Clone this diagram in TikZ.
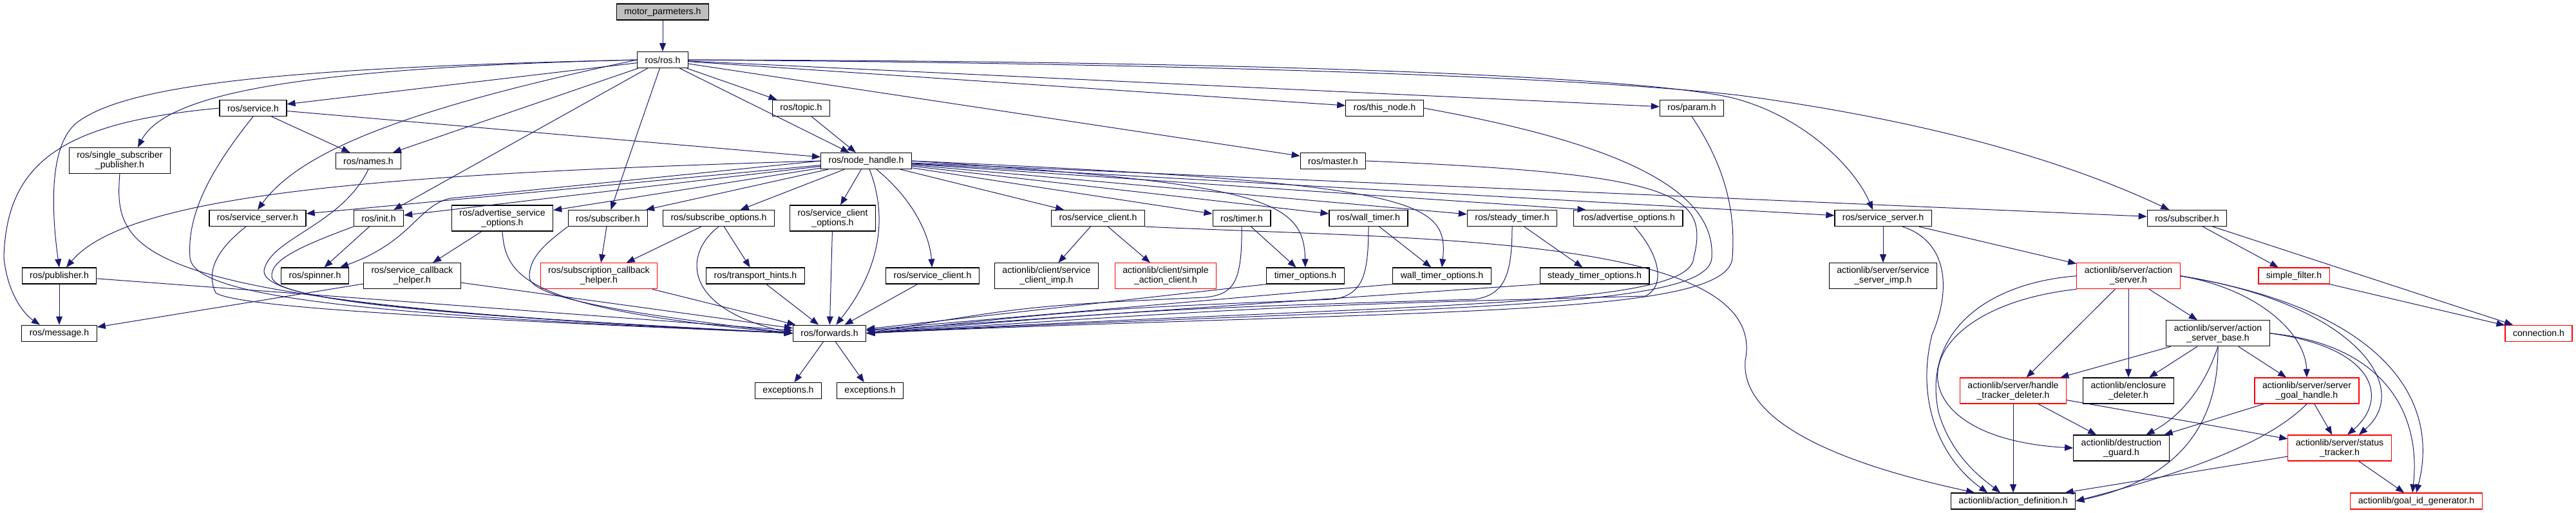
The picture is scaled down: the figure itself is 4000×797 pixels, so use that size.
\documentclass[tikz,border=0pt]{standalone}
\usepackage{fontspec}
\setmainfont{Liberation Sans}
\usetikzlibrary{arrows.meta}
\definecolor{edgeblue}{HTML}{191970}
\tikzset{
  hdr/.style={draw=black, fill=white, line width=0.6pt, inner xsep=6pt, inner ysep=0pt,
    minimum height=12.5pt, align=center, font=\fontsize{7.05}{7.5}\selectfont},
  hdrtwo/.style={hdr, minimum height=20pt},
  trunc/.style={draw=red},
  inc/.style={draw=edgeblue, line width=0.5pt, -{Triangle[length=6.5pt,width=5pt]}}
}
\begin{document}
\begin{tikzpicture}[x=0.5pt, y=-0.5pt]
\useasboundingbox (0,0) rectangle (4000,797);
% headers
\node[hdr, fill=gray!50] (mp) at (1029,18.5) {motor\_parmeters.h};
\node[hdr] (ros) at (1029,93) {ros/ros.h};
\node[hdr] (srv) at (393,168) {ros/service.h};
\node[hdr] (topic) at (1244,168) {ros/topic.h};
\node[hdr] (thisnode) at (2150,168) {ros/this\_node.h};
\node[hdr] (param) at (2627,168) {ros/param.h};
\node[hdrtwo] (ssp) at (186,249.5) {ros/single\_subscriber\\\_publisher.h};
\node[hdr] (names) at (572,250) {ros/names.h};
\node[hdr] (nh) at (1345,250) {ros/node\_handle.h};
\node[hdr] (master) at (2070,250) {ros/master.h};
\node[hdr] (srvsrvL) at (400,339) {ros/service\_server.h};
\node[hdr] (init) at (588,339) {ros/init.h};
\node[hdrtwo] (adso) at (780,339) {ros/advertise\_service\\\_options.h};
\node[hdr] (subL) at (944,339) {ros/subscriber.h};
\node[hdr] (subopt) at (1116,339) {ros/subscribe\_options.h};
\node[hdrtwo] (sco) at (1293,339) {ros/service\_client\\\_options.h};
\node[hdr] (scU) at (1705,339) {ros/service\_client.h};
\node[hdr] (timer) at (1928,339) {ros/timer.h};
\node[hdr] (wtimer) at (2125,339) {ros/wall\_timer.h};
\node[hdr] (stimer) at (2348,339) {ros/steady\_timer.h};
\node[hdr] (advo) at (2528,339) {ros/advertise\_options.h};
\node[hdr] (srvsrvR) at (2924,339) {ros/service\_server.h};
\node[hdr] (subR) at (3396,339) {ros/subscriber.h};
\node[hdr] (pub) at (92,428.5) {ros/publisher.h};
\node[hdr] (spin) at (489,428.5) {ros/spinner.h};
\node[hdrtwo] (sch) at (640,428.7) {ros/service\_callback\\\_helper.h};
\node[hdrtwo, trunc] (subcb) at (930,428.7) {ros/subscription\_callback\\\_helper.h};
\node[hdr] (hints) at (1173,428.5) {ros/transport\_hints.h};
\node[hdr] (scL) at (1448,428.5) {ros/service\_client.h};
\node[hdrtwo] (scimp) at (1625,428.7) {actionlib/client/service\\\_client\_imp.h};
\node[hdrtwo, trunc] (sac) at (1810,428.7) {actionlib/client/simple\\\_action\_client.h};
\node[hdr] (topt) at (2027,428.5) {timer\_options.h};
\node[hdr] (wtopt) at (2239,428.5) {wall\_timer\_options.h};
\node[hdr] (stopt) at (2476,428.5) {steady\_timer\_options.h};
\node[hdrtwo] (ssimp) at (2924,428.7) {actionlib/server/service\\\_server\_imp.h};
\node[hdrtwo, trunc] (as) at (3305,428.7) {actionlib/server/action\\\_server.h};
\node[hdr, trunc] (sf) at (3562,428.5) {simple\_filter.h};
\node[hdr] (msg) at (92,517.7) {ros/message.h};
\node[hdr] (fwd) at (1288,517.7) {ros/forwards.h};
\node[hdrtwo] (asb) at (3444,517.8) {actionlib/server/action\\\_server\_base.h};
\node[hdr, trunc] (conn) at (3942,517.7) {connection.h};
\node[hdr] (exc1) at (1224,607) {exceptions.h};
\node[hdr] (exc2) at (1351,607) {exceptions.h};
\node[hdrtwo, trunc] (htd) at (3126,607) {actionlib/server/handle\\\_tracker\_deleter.h};
\node[hdrtwo] (encl) at (3305,607) {actionlib/enclosure\\\_deleter.h};
\node[hdrtwo, trunc] (sgh) at (3582,607) {actionlib/server/server\\\_goal\_handle.h};
\node[hdrtwo] (dg) at (3294,696) {actionlib/destruction\\\_guard.h};
\node[hdrtwo, trunc] (st) at (3633,696) {actionlib/server/status\\\_tracker.h};
\node[hdr] (ad) at (3126,778.5) {actionlib/action\_definition.h};
\node[hdr, trunc] (gid) at (3752,778.5) {actionlib/goal\_id\_generator.h};
% straight includes
\foreach \a/\b in {mp/ros, ros/srv, ros/topic, ros/names, ros/init, ros/subL, ros/nh,
    ros/thisnode, ros/param, ros/master, srv/nh, srv/names, topic/nh,
    nh/srvsrvL, nh/init, nh/adso, nh/subL, nh/subopt, nh/sco, nh/scU, nh/timer,
    nh/wtimer, nh/stimer, nh/srvsrvR, nh/subR, init/spin, adso/sch, sch/msg, sch/fwd,
    pub/msg, pub/fwd, subL/subcb, subopt/subcb, subopt/hints, subcb/fwd, hints/fwd,
    sco/fwd, scL/fwd, scU/scimp, scU/sac, timer/topt, wtimer/wtopt, stimer/stopt,
    srvsrvR/ssimp, srvsrvR/as, subR/sf, subR/conn, sf/conn, fwd/exc1, fwd/exc2,
    as/asb, as/encl, as/htd, asb/htd, asb/encl, asb/sgh, htd/ad, htd/dg, htd/st,
    sgh/dg, sgh/st, st/ad, st/gid}
  \draw[inc] (\a) -- (\b);
\draw[inc] (nh) -- ([xshift=10pt]advo.north west);
\draw[inc] (topt.south west) -- (fwd);
\draw[inc] (wtopt.south west) -- (fwd);
\draw[inc] (stopt.south west) -- (fwd);
% curved includes
\draw[inc] (ros.west) .. controls (450,105) and (200,130) .. (120,190) .. controls (75,225) and (80,330) .. (pub.north);
\draw[inc] (ros.west) .. controls (500,105) and (260,140) .. ([xshift=14pt]ssp.north);
\draw[inc] (ros.west) .. controls (650,165) and (470,230) .. (srvsrvL.north);
\draw[inc] (ros.east) .. controls (2000,95) and (2550,120) .. (2690,152) .. controls (2800,180) and (2880,260) .. ([xshift=-8pt]srvsrvR.north);
\draw[inc] (ros.east) .. controls (2000,100) and (2500,125) .. (2700,148) .. controls (3050,195) and (3250,270) .. (subR);
\draw[inc] (srv.west) .. controls (100,190) and (10,250) .. (6,400) .. controls (12,460) and (40,490) .. ([xshift=-15pt]msg.north);
\draw[inc] (srv.south) .. controls (330,260) and (290,330) .. (295,400) .. controls (300,465) and (600,490) .. (fwd.west);
\draw[inc] (ssp.south) .. controls (175,400) and (210,470) .. (fwd.west);
\draw[inc] ([xshift=-9pt]srvsrvL.south) .. controls (340,385) and (318,420) .. (335,455) .. controls (370,478) and (700,495) .. (fwd.west);
\draw[inc] (names.south) .. controls (530,350) and (420,370) .. (410,420) .. controls (405,470) and (700,490) .. (fwd.west);
\draw[inc] (init.south west) .. controls (460,385) and (420,405) .. (422,430) .. controls (425,468) and (700,490) .. (fwd.west);
\draw[inc] (adso.south) .. controls (785,430) and (815,480) .. (fwd.west);
\draw[inc] (subL.south west) .. controls (845,380) and (822,400) .. (822,430) .. controls (822,465) and (1000,490) .. (fwd.west);
\draw[inc] (subopt.south) .. controls (1060,395) and (1060,480) .. (fwd.west);
\draw[inc] (nh.west) .. controls (600,270) and (200,300) .. (pub);
\draw[inc] (nh.west) -- (700,308) .. controls (650,318) and (640,375) .. ([xshift=-7pt]spin.north east);
\draw[inc] (nh) .. controls (1430,320) and (1445,380) .. (scL);
\draw[inc] (nh) .. controls (1380,340) and (1365,420) .. (fwd);
\draw[inc] (nh.east) .. controls (1960,285) and (2025,310) .. (topt);
\draw[inc] (nh.east) .. controls (2200,285) and (2250,310) .. (wtopt.north);
\draw[inc] (timer.south) .. controls (1929,440) and (1915,458) .. (1870,462) .. controls (1600,475) .. (fwd.east);
\draw[inc] (wtimer.south) .. controls (2125,430) and (2115,458) .. (2070,465) .. controls (1700,480) .. (fwd.east);
\draw[inc] (stimer.south) .. controls (2348,430) and (2335,458) .. (2290,465) .. controls (1800,480) .. (fwd.east);
\draw[inc] ([xshift=5pt]advo.south) .. controls (2580,400) and (2585,445) .. (2555,460) .. controls (2000,475) .. (fwd.east);
\draw[inc] (master.east) .. controls (2600,270) and (2655,300) .. (2630,400) .. controls (2626,480) and (2200,470) .. (fwd.east);
\draw[inc] (thisnode.east) .. controls (2500,220) and (2665,290) .. (2658,400) .. controls (2655,485) and (2200,475) .. (fwd.east);
\draw[inc] (param.south) .. controls (2680,260) and (2695,330) .. (2690,400) .. controls (2686,495) and (2200,480) .. (fwd.east);
\draw[inc] (scU.south east) .. controls (2200,372) and (2750,365) .. (2710,560) .. controls (2700,680) and (2950,740) .. (ad);
\draw[inc] ([xshift=15pt]srvsrvR.south) .. controls (3025,375) and (3030,450) .. (3000,520) .. controls (2975,620) and (3010,710) .. ([xshift=-20pt]ad.north);
\draw[inc] (as.west) .. controls (3080,440) and (2985,520) .. (3010,640) .. controls (3030,710) and (3080,745) .. ([xshift=-10pt]ad.north);
\draw[inc] (as.south west) .. controls (2950,480) and (2930,680) .. (dg.west);
\draw[inc] (as.east) .. controls (3510,450) and (3580,520) .. (sgh.north);
\draw[inc] (as.east) .. controls (3650,470) and (3750,600) .. ([xshift=15pt]st.north);
\draw[inc] (as.east) .. controls (3700,480) and (3790,620) .. (gid.north);
\draw[inc] (asb.south) .. controls (3420,610) and (3380,650) .. (dg);
\draw[inc] (asb.south) .. controls (3445,680) and (3360,750) .. (ad.east);
\draw[inc] (asb.east) .. controls (3690,540) and (3710,620) .. ([xshift=6pt]st.north);
\draw[inc] (asb.east) .. controls (3700,535) and (3760,640) .. ([xshift=-3pt]gid.north);
\draw[inc] (sgh.south) .. controls (3510,700) and (3350,745) .. (ad.east);
\end{tikzpicture}
\end{document}
